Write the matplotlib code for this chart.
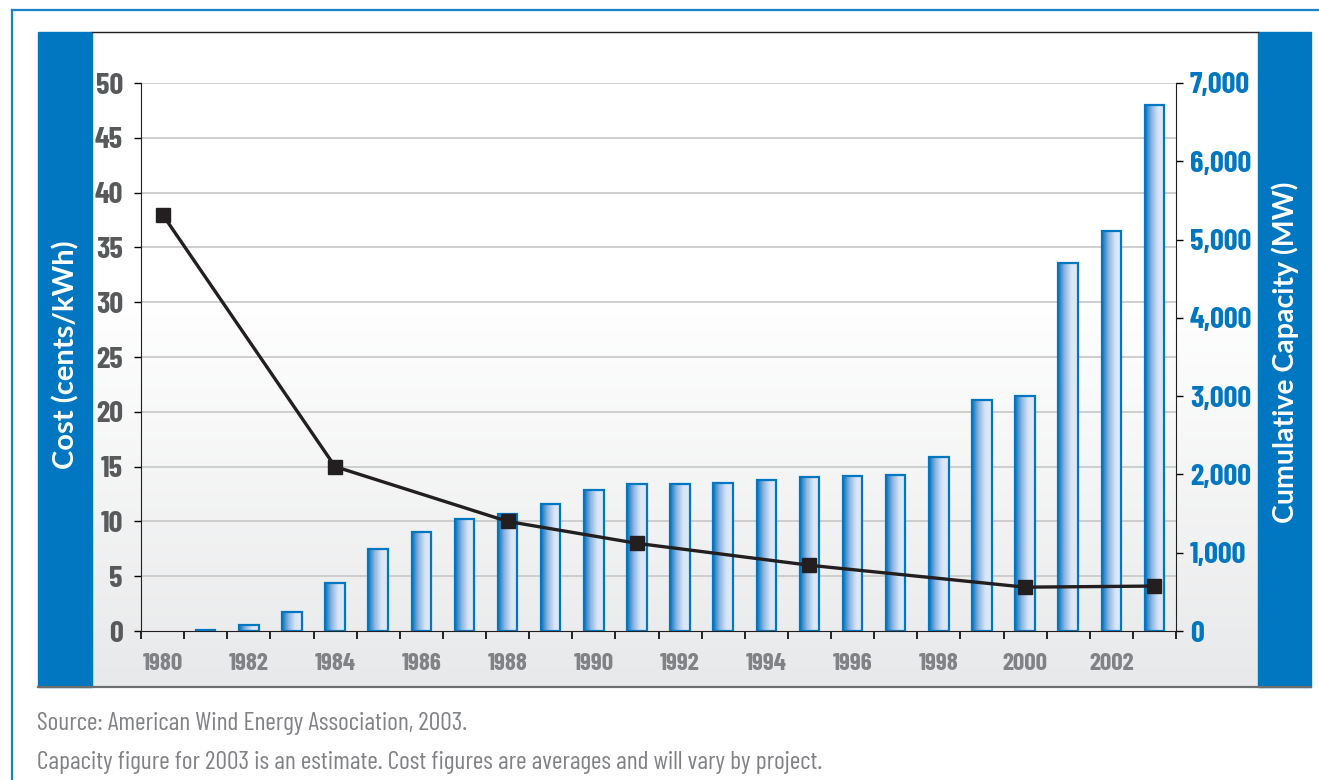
import numpy as np
import matplotlib.pyplot as plt
from matplotlib.colors import LinearSegmentedColormap
from matplotlib.patches import Rectangle
from matplotlib.ticker import FuncFormatter

# --- data ---
years = list(range(1980, 2004))
capacity = [0, 10, 80, 240, 610, 1050, 1265, 1430, 1495, 1620, 1800, 1880,
            1880, 1885, 1925, 1965, 1980, 1995, 2220, 2950, 3000, 4700, 5110, 6720]
cost_years = [1980, 1984, 1988, 1991, 1995, 2000, 2003]
cost = [38, 15, 10, 8, 6, 4, 4.1]
cost_ticks = list(range(0, 51, 5))
cap_ticks = list(range(0, 7001, 1000))
year_labels = [str(y) for y in years[::2]]

BLUE = '#0077c0'
COND = ['Barlow Condensed', 'DejaVu Sans']
WIDE = ['Lato', 'DejaVu Sans']

W, H = 1319, 780
fig = plt.figure(figsize=(W / 100, H / 100), dpi=100)

# --- background frame, drawn in pixel coordinates ---
bg = fig.add_axes([0, 0, 1, 1])
bg.set_xlim(0, W)
bg.set_ylim(H, 0)
bg.axis('off')
grad = np.concatenate([np.zeros(40), np.linspace(0, 1, 60)])[:, None]
bg_cmap = LinearSegmentedColormap.from_list('bg', ['#ffffff', '#e8e9ea'])
bg.imshow(grad, extent=[92, 1258, 687, 32], cmap=bg_cmap, aspect='auto', zorder=0)
bg.add_patch(Rectangle((38, 32), 54, 655, color=BLUE, zorder=1))
bg.add_patch(Rectangle((1258, 32), 53, 655, color=BLUE, zorder=1))
bg.plot([92, 1258], [32, 32], color='#231f20', lw=1)
bg.plot([38, 1311], [687, 687], color='#6d6e70', lw=1.6)
bg.plot([12, W], [10, 10], color='#1a80c8', lw=1.6)
bg.plot([12, 12], [10, H], color='#1a80c8', lw=1.6)
bg.set_xlim(0, W)
bg.set_ylim(H, 0)

bg.text(66, 355, 'Cost (cents/kWh)', rotation=90, color='white', fontsize=21,
        fontweight='bold', ha='center', va='center', family=WIDE)
bg.text(1285, 352, 'Cumulative Capacity (MW)', rotation=90, color='white', fontsize=20.5,
        fontweight='bold', ha='center', va='center', family=WIDE)

# --- main axes: capacity bars ---
ax = fig.add_axes([141 / W, 1 - 631 / H, (1176 - 141) / W, (631 - 83) / H])
ax.set_facecolor('none')
ax_cost = ax.twinx()

bar_cmap = LinearSegmentedColormap.from_list('bar', ['#0a74bd', '#8db6e2', '#d8e5f6', '#e2ebf8'])
hgrad = np.linspace(0, 1, 100)[None, :]
x = np.arange(len(years))
bw = 0.45
for i, v in zip(x, capacity):
    if v <= 0:
        continue
    ax.imshow(hgrad, extent=[i - bw / 2, i + bw / 2, 0, v], cmap=bar_cmap,
              aspect='auto', zorder=2)
    ax.bar(i, v, bw, facecolor='none', edgecolor=BLUE, linewidth=1.6, zorder=3)

# grid at the cost ticks, behind the bars
ax.hlines(cost_ticks[1:], 0, 1, transform=ax_cost.get_yaxis_transform(),
          colors='#cbcbcb', linewidth=1.3, zorder=1)

ax.set_xlim(-0.5, len(years) - 0.5)
ax.set_ylim(0, 7000)
ax.yaxis.tick_right()
ax.set_yticks(cap_ticks)
ax.yaxis.set_major_formatter(FuncFormatter(lambda v, p: f'{int(v):,}'))
ax.tick_params(axis='y', direction='out', length=5, width=1, pad=5,
               labelsize=22, labelcolor=BLUE)
ax.set_xticks(x[::2])
ax.set_xticklabels(year_labels)
ax.set_xticks(np.arange(-0.5, len(years), 1), minor=True)
ax.tick_params(axis='x', which='major', length=0, pad=16, labelsize=18, labelcolor='#808285')
ax.tick_params(axis='x', which='minor', direction='out', length=6, width=1.2)
for lab in ax.get_xticklabels() + ax.get_yticklabels():
    lab.set_family(COND)
    lab.set_fontweight('bold')

# --- cost line ---
cost_x = [years.index(y) for y in cost_years]
ax_cost.plot(cost_x, cost, color='#231f20', lw=2.4, marker='s', markersize=10,
             markerfacecolor='#231f20', markeredgecolor='#231f20', zorder=5)
ax_cost.set_ylim(0, 50)
ax_cost.yaxis.tick_left()
ax_cost.set_yticks(cost_ticks)
ax_cost.tick_params(axis='y', direction='out', length=5, width=1, pad=8,
                    labelsize=22, labelcolor='#58595b')
for lab in ax_cost.get_yticklabels():
    lab.set_family(COND)
    lab.set_fontweight('bold')

for a in (ax, ax_cost):
    a.spines['top'].set_visible(False)
ax_cost.spines['right'].set_visible(False)
ax_cost.spines['bottom'].set_visible(False)
ax.spines['left'].set_visible(False)
ax_cost.spines['left'].set_color('#231f20')
ax.spines['right'].set_color('#231f20')
ax.spines['bottom'].set_color('#231f20')

# --- footnotes ---
fig.text(37 / W, 1 - 730 / H, 'Source: American Wind Energy Association, 2003.',
         fontsize=18.5, color='#808285', family=COND, va='baseline')
fig.text(37 / W, 1 - 769 / H,
         'Capacity figure for 2003 is an estimate. Cost figures are averages and will vary by project.',
         fontsize=18.5, color='#808285', family=COND, va='baseline')

fig.savefig('out.png', dpi=100)
